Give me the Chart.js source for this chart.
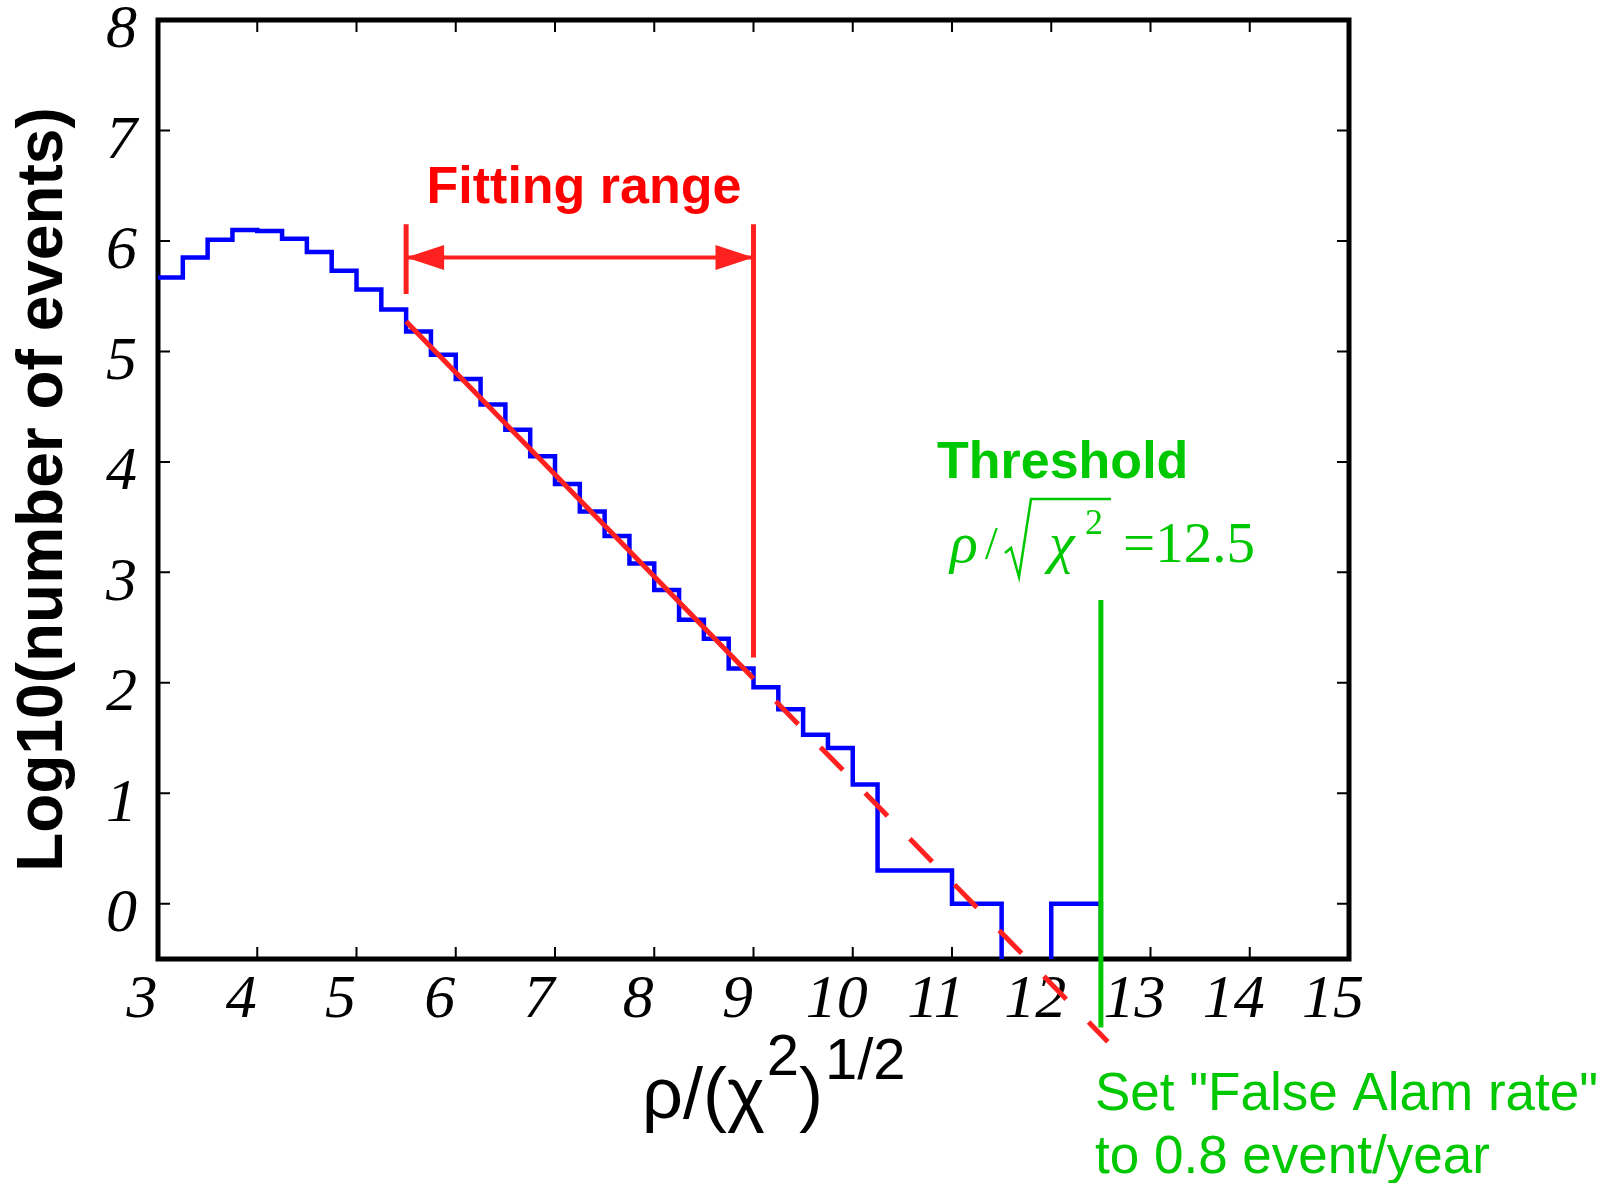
<!DOCTYPE html>
<html>
<head>
<meta charset="utf-8">
<script src="https://cdn.jsdelivr.net/npm/chart.js@4.4.1/dist/chart.umd.min.js"></script>
<style>
  body { margin: 0; background: #fff; }
  #wrap { width: 1611px; height: 1183px; }
</style>
</head>
<body>
<div id="wrap"><canvas id="chart"></canvas></div>
<script>
// histogram: log10(number of events) in 0.25 wide bins from rho/sqrt(chi2) = 3
const binStart = 3;
const binWidth = 0.25;
const logCounts = [
  5.67, 5.85, 6.01, 6.10, 6.09, 6.02, 5.90, 5.73, 5.56, 5.38,
  5.18, 4.97, 4.75, 4.52, 4.29, 4.05, 3.80, 3.55, 3.33, 3.08,
  2.84, 2.57, 2.40, 2.13, 1.96, 1.76, 1.53, 1.41, 1.08, 0.30,
  0.30, 0.30, 0.00, 0.00, -1, -1, 0.00, 0.00, -1
];
// -1 marks an empty bin (log10 of 0), it falls below the axis

// straight line fit in log10, solid over the fitting range, dashed beyond
const fitX = [5.5, 9.0];
const fitY = [5.27, 2.04];
const extX = [9.0, 12.57];
const extY = [2.04, -1.25];

// threshold line
const thresholdX = 12.5;
const thresholdY = [2.75, -1.12];

// fitting range marker
const rangeX = [5.5, 9.0];
const rangeArrowY = 5.85;
const rangeTopY = 6.15;
const rangeBottomY = [5.52, 2.23];

const xTicks = [3, 4, 5, 6, 7, 8, 9, 10, 11, 12, 13, 14, 15];
const yTicks = [0, 1, 2, 3, 4, 5, 6, 7, 8];

const RED = '#ff2020';
const BLUE = '#0000ff';
const GREEN = '#00c800';

const histPoints = logCounts.map((v, i) => ({ x: binStart + i * binWidth, y: v }));
histPoints.push({ x: binStart + logCounts.length * binWidth, y: logCounts[logCounts.length - 1] });

function pts(xs, ys) {
  return xs.map((x, i) => ({ x: x, y: ys[i] }));
}

function lineSet(data, color, width, extra) {
  return Object.assign({
    data: data,
    borderColor: color,
    borderWidth: width,
    pointRadius: 0,
    fill: false,
    tension: 0,
    clip: false
  }, extra || {});
}

// frame box with inward tick marks on all four sides
const framePlugin = {
  id: 'frame',
  beforeDatasetsDraw(chart) {
    const { ctx, chartArea: a, scales: { x, y } } = chart;
    ctx.save();
    ctx.strokeStyle = '#000';
    ctx.lineWidth = 5;
    ctx.strokeRect(a.left, a.top, a.right - a.left, a.bottom - a.top);
    ctx.lineWidth = 2;
    ctx.beginPath();
    xTicks.slice(1, -1).forEach(v => {
      const px = x.getPixelForValue(v);
      ctx.moveTo(px, a.bottom); ctx.lineTo(px, a.bottom - 12);
      ctx.moveTo(px, a.top); ctx.lineTo(px, a.top + 12);
    });
    yTicks.slice(0, -1).forEach(v => {
      const py = y.getPixelForValue(v);
      ctx.moveTo(a.left, py); ctx.lineTo(a.left + 12, py);
      ctx.moveTo(a.right, py); ctx.lineTo(a.right - 12, py);
    });
    ctx.stroke();
    ctx.restore();
  }
};

// arrow heads and text annotations
const notesPlugin = {
  id: 'notes',
  afterDraw(chart) {
    const { ctx, scales: { x, y } } = chart;
    ctx.save();

    // arrow heads of the fitting range
    const ay = y.getPixelForValue(rangeArrowY);
    const xl = x.getPixelForValue(rangeX[0]);
    const xr = x.getPixelForValue(rangeX[1]);
    ctx.fillStyle = RED;
    ctx.beginPath();
    ctx.moveTo(xl, ay); ctx.lineTo(xl + 38, ay - 12.5); ctx.lineTo(xl + 38, ay + 12.5); ctx.closePath();
    ctx.moveTo(xr, ay); ctx.lineTo(xr - 38, ay - 12.5); ctx.lineTo(xr - 38, ay + 12.5); ctx.closePath();
    ctx.fill();

    ctx.textBaseline = 'alphabetic';
    ctx.fillStyle = '#ff0000';
    ctx.font = 'bold 52px "Liberation Sans"';
    ctx.textAlign = 'center';
    ctx.fillText('Fitting range', 584, 203);

    ctx.textAlign = 'left';
    ctx.fillStyle = GREEN;
    ctx.fillText('Threshold', 937, 478);

    // rho / sqrt(chi^2) = 12.5
    ctx.font = 'italic 58px "Liberation Serif"';
    ctx.fillText('ρ', 950, 562);
    ctx.font = '46px "Liberation Serif"';
    ctx.fillText('/', 985, 559);
    ctx.strokeStyle = GREEN;
    ctx.lineWidth = 2.5;
    ctx.lineJoin = 'miter';
    ctx.beginPath();
    ctx.moveTo(1005, 553); ctx.lineTo(1011, 548); ctx.lineTo(1019, 577);
    ctx.lineTo(1031, 499); ctx.lineTo(1111, 499);
    ctx.stroke();
    ctx.font = 'italic 58px "Liberation Serif"';
    ctx.fillText('χ', 1049, 562);
    ctx.font = '36px "Liberation Serif"';
    ctx.fillText('2', 1085, 534);
    ctx.font = '57px "Liberation Serif"';
    ctx.fillText('=12.5', 1123, 562);

    ctx.font = '53px "Liberation Sans"';
    ctx.fillText('Set "False Alam rate"', 1095, 1110);
    ctx.fillText('to 0.8 event/year', 1095, 1173);

    // x axis title rho/(chi^2)^(1/2)
    ctx.fillStyle = '#000';
    let cx = 642;
    const base = 1118;
    const main = '72px "Liberation Sans"';
    const sup = '58px "Liberation Sans"';
    ctx.font = main;
    ctx.fillText('ρ/(χ', cx, base);
    cx += ctx.measureText('ρ/(χ').width + 2;
    ctx.font = sup;
    ctx.fillText('2', cx, base - 43);
    cx += ctx.measureText('2').width;
    ctx.font = main;
    ctx.fillText(')', cx, base);
    cx += ctx.measureText(')').width + 2;
    ctx.font = sup;
    ctx.fillText('1/2', cx, base - 39);

    ctx.restore();
  }
};

new Chart(document.getElementById('chart'), {
  type: 'line',
  data: {
    datasets: [
      lineSet(pts(fitX, fitY), RED, 5),
      lineSet(pts(extX, extY), RED, 5, { borderDash: [32, 32], borderDashOffset: 32 }),
      lineSet(pts([rangeX[0], rangeX[1]], [rangeArrowY, rangeArrowY]), RED, 4),
      lineSet(pts([rangeX[0], rangeX[0]], [rangeTopY, rangeBottomY[0]]), RED, 5),
      lineSet(pts([rangeX[1], rangeX[1]], [rangeTopY, rangeBottomY[1]]), RED, 5),
      lineSet(pts([thresholdX, thresholdX], thresholdY), GREEN, 5),
      lineSet(histPoints, BLUE, 4.5, { stepped: true, clip: 0 })
    ]
  },
  options: {
    responsive: true,
    maintainAspectRatio: false,
    animation: false,
    layout: { padding: { top: 20, right: 262, left: 0, bottom: 0 } },
    plugins: { legend: { display: false }, tooltip: { enabled: false } },
    scales: {
      x: {
        type: 'linear',
        min: 3,
        max: 15,
        grid: { display: false },
        border: { display: false },
        afterFit(scale) {
          scale.height = 224;
          scale.paddingLeft = 0;
          scale.paddingRight = 0;
        },
        afterBuildTicks(scale) { scale.ticks = xTicks.map(v => ({ value: v })); },
        ticks: {
          autoSkip: false,
          maxRotation: 0,
          padding: -3,
          labelOffset: -16,
          color: '#000',
          font: { family: 'Liberation Serif', size: 62, style: 'italic' }
        }
      },
      y: {
        type: 'linear',
        min: -0.5,
        max: 8,
        grid: { display: false },
        border: { display: false },
        afterFit(scale) {
          scale.width = 158;
          scale.paddingTop = 0;
          scale.paddingBottom = 0;
        },
        afterBuildTicks(scale) { scale.ticks = yTicks.map(v => ({ value: v })); },
        ticks: {
          padding: 13,
          labelOffset: 11,
          color: '#000',
          font: { family: 'Liberation Serif', size: 62, style: 'italic' }
        },
        title: {
          display: true,
          text: 'Log10(number of events)',
          color: '#000',
          padding: { top: 6, bottom: 0 },
          font: { family: 'Liberation Sans', size: 64, weight: 'bold' }
        }
      }
    }
  },
  plugins: [framePlugin, notesPlugin]
});
</script>
</body>
</html>
